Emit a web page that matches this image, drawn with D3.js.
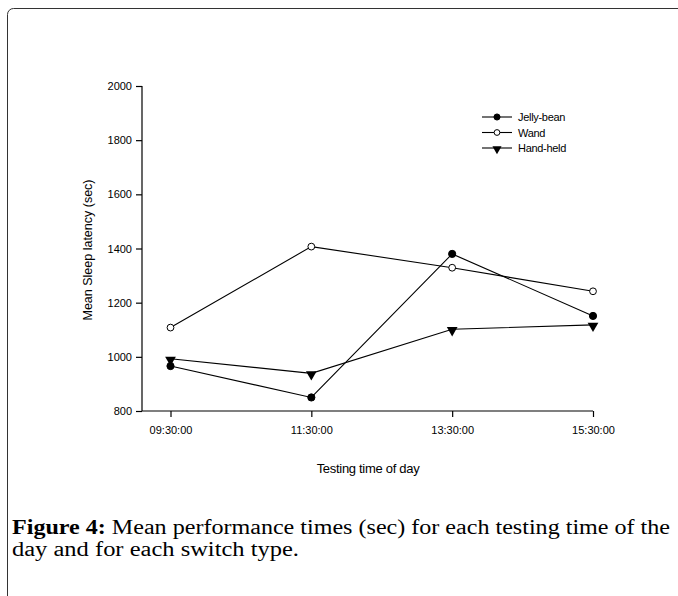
<!DOCTYPE html>
<html>
<head>
<meta charset="utf-8">
<script src="https://cdn.jsdelivr.net/npm/d3@7"></script>
<style>
  body { margin: 0; background: #fff; }
</style>
</head>
<body>
<div id="chart"></div>
<script>
// Testing times (x categories)
var times = ["09:30:00", "11:30:00", "13:30:00", "15:30:00"];

// Series values
var jellyBean = [966, 850, 1380, 1151];
var wand = [1108, 1407, 1329, 1242];
var handHeld = [993, 939, 1102, 1118];

var seriesNames = ["Jelly-bean", "Wand", "Hand-held"];
var yTicks = [800, 1000, 1200, 1400, 1600, 1800, 2000];

var svgWidth = 678;
var svgHeight = 596;

var svg = d3.select("#chart")
    .append("svg")
    .attr("width", svgWidth)
    .attr("height", svgHeight);

// figure frame
svg.append("rect")
    .attr("x", 7.5)
    .attr("y", 8.5)
    .attr("width", 700)
    .attr("height", 620)
    .attr("rx", 6)
    .attr("fill", "none")
    .attr("stroke", "#333")
    .attr("stroke-width", 1);

// plot area
var plotLeft = 142, plotRight = 593, plotTop = 86, plotBottom = 411;

var x = d3.scalePoint()
    .domain(times)
    .range([170.5, 593]);

var y = d3.scaleLinear()
    .domain([800, 2000])
    .range([plotBottom, plotTop]);

var axisFont = "Liberation Sans, Arial, sans-serif";

// y axis
var yAxis = svg.append("g")
    .attr("transform", `translate(${plotLeft}, 0)`)
    .call(d3.axisLeft(y).tickValues(yTicks).tickSize(6).tickPadding(4).tickFormat(d3.format("d")));
yAxis.select(".domain").attr("stroke", "#000").attr("stroke-width", 1.2).attr("d", `M0,${plotTop}V${plotBottom}`);
yAxis.selectAll(".tick line").attr("stroke", "#000").attr("stroke-width", 1.2);
yAxis.selectAll(".tick text")
    .attr("font-family", axisFont)
    .attr("font-size", 11)
    .attr("fill", "#000");

// x axis
var xAxis = svg.append("g")
    .attr("transform", `translate(0, ${plotBottom})`)
    .call(d3.axisBottom(x).tickSize(6).tickPadding(9));
xAxis.select(".domain").attr("stroke", "#000").attr("stroke-width", 1.2).attr("d", `M${plotLeft},0H${plotRight}`);
xAxis.selectAll(".tick line").attr("stroke", "#000").attr("stroke-width", 1.2);
xAxis.selectAll(".tick text")
    .attr("font-family", axisFont)
    .attr("font-size", 11)
    .attr("fill", "#000");

// axis titles
svg.append("text")
    .attr("x", 368)
    .attr("y", 473)
    .attr("text-anchor", "middle")
    .attr("font-family", axisFont)
    .attr("font-size", 13)
    .attr("letter-spacing", -0.3)
    .text("Testing time of day");

svg.append("text")
    .attr("transform", "translate(92, 250) rotate(-90)")
    .attr("text-anchor", "middle")
    .attr("font-family", axisFont)
    .attr("font-size", 12.5)
    .text("Mean Sleep latency (sec)");

// lines and markers
var line = d3.line()
    .x((d, i) => x(times[i]))
    .y(d => y(d));

var allSeries = [jellyBean, wand, handHeld];

function drawMarker(g, kind, cx, cy, s) {
    if (kind === 0) {
        g.append("circle").attr("cx", cx).attr("cy", cy).attr("r", 3.6 * s)
            .attr("fill", "#000").attr("stroke", "#000");
    } else if (kind === 1) {
        g.append("circle").attr("cx", cx).attr("cy", cy).attr("r", 3.4 * s)
            .attr("fill", "#fff").attr("stroke", "#000").attr("stroke-width", 1);
    } else {
        g.append("path").attr("d", d3.symbol().type(d3.symbolTriangle).size(50 * s * s))
            .attr("transform", `translate(${cx}, ${cy + 1}) rotate(180)`)
            .attr("fill", "#000");
    }
}

allSeries.forEach(function(vals, k) {
    var g = svg.append("g");
    g.append("path")
        .datum(vals)
        .attr("d", line)
        .attr("fill", "none")
        .attr("stroke", "#000")
        .attr("stroke-width", 1.1);
    vals.forEach(function(v, i) {
        drawMarker(g, k, x(times[i]), y(v), 1);
    });
});

// legend
var legend = svg.append("g");
seriesNames.forEach(function(name, k) {
    var ly = 117 + k * 15.5;
    legend.append("line")
        .attr("x1", 482).attr("x2", 512)
        .attr("y1", ly).attr("y2", ly)
        .attr("stroke", "#000").attr("stroke-width", 1.1);
    drawMarker(legend, k, 497, ly, 0.85);
    legend.append("text")
        .attr("x", 518)
        .attr("y", ly + 4)
        .attr("font-family", axisFont)
        .attr("font-size", 11)
        .attr("letter-spacing", -0.3)
        .text(name);
});

// caption
var captionFont = "Liberation Serif, DejaVu Serif, serif";
var cap1 = svg.append("text")
    .attr("x", 12)
    .attr("y", 534)
    .attr("font-family", captionFont)
    .attr("font-size", 20)
    .attr("textLength", 658)
    .attr("lengthAdjust", "spacingAndGlyphs");
cap1.append("tspan").attr("font-weight", "bold").text("Figure 4:");
cap1.append("tspan").text(" Mean performance times (sec) for each testing time of the");

svg.append("text")
    .attr("x", 12)
    .attr("y", 556)
    .attr("font-family", captionFont)
    .attr("font-size", 20)
    .attr("textLength", 287)
    .attr("lengthAdjust", "spacingAndGlyphs")
    .text("day and for each switch type.");
</script>
</body>
</html>
